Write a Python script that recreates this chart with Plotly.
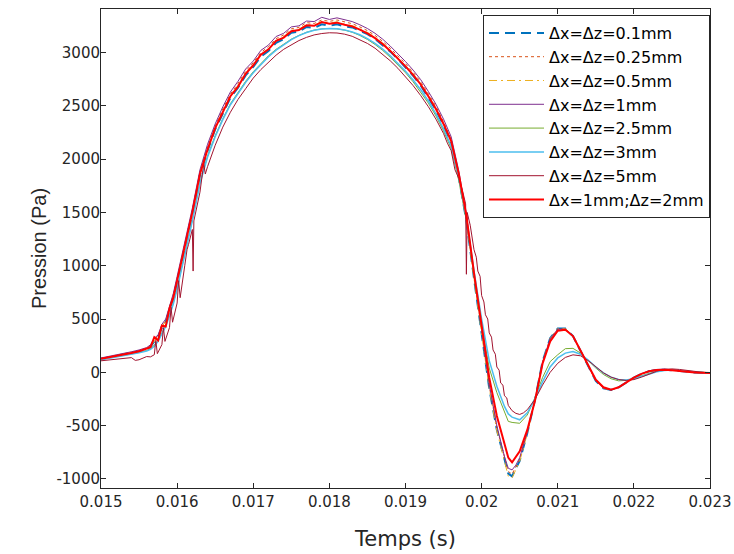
import plotly.graph_objects as go

# ---------------- data ----------------
temps = [0.0150, 0.0151, 0.0152, 0.0153, 0.0154, 0.0155, 0.0156, 0.01565, 0.0157, 0.01575,
         0.0158, 0.01585, 0.0159, 0.01595, 0.0160, 0.0161, 0.0162, 0.0163, 0.0164, 0.0165,
         0.0166, 0.0167, 0.0168, 0.0169, 0.0170, 0.0171, 0.0172, 0.0173, 0.0174, 0.0175,
         0.0176, 0.0177, 0.0178, 0.0179, 0.0180, 0.0181, 0.0182, 0.0183, 0.0184, 0.0185,
         0.0186, 0.0187, 0.0188, 0.0189, 0.0190, 0.0191, 0.0192, 0.0193, 0.0194, 0.0195,
         0.0196, 0.0197, 0.0198, 0.0199, 0.0200, 0.0201, 0.0202, 0.0203, 0.02035, 0.0204,
         0.02045, 0.0205, 0.0206, 0.0207, 0.0208, 0.0209, 0.0210, 0.0211, 0.0212, 0.0213,
         0.0214, 0.0215, 0.0216, 0.0217, 0.0218, 0.0219, 0.0220, 0.0221, 0.0222, 0.0223,
         0.0224, 0.0225, 0.0226, 0.0227, 0.0228, 0.0229, 0.0230]

p_dx01 = [125, 138, 151, 165, 180, 196, 216, 240, 290, 330,
          420, 470, 590, 700, 850, 1160, 1490, 1850, 2080, 2280,
          2430, 2575, 2670, 2785, 2865, 2960, 3015, 3090, 3125, 3185,
          3195, 3240, 3230, 3265, 3250, 3265, 3245, 3235, 3205, 3172,
          3128, 3072, 3008, 2938, 2862, 2782, 2690, 2580, 2460, 2315,
          2150, 1830, 1420, 880, 360, -150, -540, -830, -950, -975,
          -900, -830, -570, -260, 100, 320, 410, 410, 340, 195,
          50, -80, -150, -165, -140, -95, -50, -15, 10, 22,
          25, 20, 12, 3, -2, -4, -6]

p_dx025 = [132, 145, 158, 173, 188, 204, 225, 250, 310, 340,
           445, 480, 615, 720, 880, 1190, 1520, 1880, 2120, 2310,
           2470, 2610, 2710, 2825, 2905, 3000, 3055, 3130, 3165, 3222,
           3235, 3280, 3272, 3305, 3292, 3305, 3285, 3270, 3240, 3205,
           3160, 3105, 3040, 2970, 2895, 2815, 2725, 2615, 2495, 2350,
           2185, 1860, 1450, 900, 380, -130, -520, -810, -930, -955,
           -890, -815, -565, -260, 95, 315, 408, 408, 340, 198,
           52, -78, -150, -165, -141, -95, -50, -14, 12, 24,
           27, 22, 13, 4, -2, -4, -6]

p_dx05 = [127, 139, 152, 166, 181, 197, 217, 242, 295, 335,
          430, 475, 600, 710, 860, 1170, 1500, 1860, 2095, 2295,
          2450, 2595, 2690, 2805, 2885, 2985, 3035, 3115, 3148, 3208,
          3218, 3262, 3255, 3290, 3275, 3288, 3265, 3252, 3222, 3188,
          3143, 3088, 3022, 2952, 2877, 2797, 2705, 2595, 2475, 2330,
          2165, 1840, 1430, 880, 360, -150, -550, -850, -975, -990,
          -910, -835, -575, -265, 95, 318, 410, 410, 340, 196,
          50, -80, -150, -165, -140, -95, -50, -15, 10, 22,
          25, 20, 12, 3, -2, -4, -6]

p_dx1 = [135, 148, 162, 177, 193, 210, 232, 258, 320, 350,
         450, 500, 630, 740, 900, 1210, 1540, 1900, 2140, 2330,
         2490, 2630, 2730, 2845, 2920, 3020, 3070, 3150, 3180, 3240,
         3250, 3295, 3290, 3330, 3310, 3325, 3305, 3290, 3260, 3225,
         3180, 3125, 3060, 2990, 2915, 2835, 2745, 2635, 2515, 2375,
         2210, 1890, 1480, 930, 400, -110, -500, -790, -900, -915,
         -870, -800, -560, -260, 95, 315, 405, 405, 340, 200,
         55, -75, -148, -165, -142, -95, -50, -12, 14, 27,
         30, 24, 14, 4, -2, -4, -6]

p_dx25 = [120, 132, 145, 158, 172, 187, 205, 222, 255, 300,
          370, 440, 540, 650, 790, 1100, 1430, 1780, 2030, 2220,
          2380, 2520, 2630, 2730, 2820, 2900, 2970, 3030, 3080, 3125,
          3160, 3190, 3210, 3222, 3225, 3222, 3210, 3190, 3160, 3122,
          3075, 3020, 2955, 2885, 2810, 2725, 2630, 2525, 2405, 2265,
          2100, 1800, 1420, 900, 440, 40, -190, -370, -460, -470,
          -472, -478, -400, -240, -50, 100, 165, 222, 225, 180,
          110, 40, -20, -60, -80, -75, -55, -30, -10, 8,
          18, 20, 15, 8, 2, -2, -4]

p_dx3 = [118, 130, 143, 156, 170, 184, 200, 215, 245, 290,
         360, 430, 530, 640, 780, 1090, 1420, 1770, 2020, 2210,
         2370, 2510, 2620, 2720, 2810, 2890, 2960, 3022, 3075, 3120,
         3158, 3188, 3208, 3220, 3224, 3222, 3212, 3193, 3166, 3130,
         3085, 3032, 2970, 2900, 2825, 2742, 2650, 2545, 2425, 2285,
         2120, 1830, 1450, 950, 500, 110, -130, -320, -390, -420,
         -435, -445, -380, -250, -90, 50, 135, 180, 195, 170,
         115, 50, -5, -45, -68, -73, -60, -38, -15, 5,
         18, 22, 18, 10, 3, -2, -4]

p_red = [128, 140, 153, 167, 182, 198, 218, 235, 330, 300,
         440, 430, 600, 700, 860, 1170, 1500, 1860, 2090, 2290,
         2440, 2590, 2680, 2800, 2880, 2980, 3030, 3110, 3140, 3200,
         3210, 3255, 3250, 3285, 3270, 3280, 3260, 3245, 3215, 3180,
         3135, 3080, 3015, 2945, 2870, 2790, 2700, 2590, 2470, 2330,
         2170, 1860, 1470, 930, 430, -50, -410, -660, -800, -845,
         -790, -740, -540, -270, 80, 290, 390, 400, 340, 200,
         60, -70, -140, -163, -140, -95, -50, -15, 10, 22,
         25, 20, 12, 3, -2, -4, -6]

# the 5 mm run has its own, finer sampling (spiky samples)
temps_dx5 = [0.0150, 0.0151, 0.0152, 0.0153, 0.0154, 0.01545, 0.0155, 0.0156, 0.01565, 0.0157,
             0.01572, 0.01574, 0.0158, 0.01582, 0.01584, 0.0159, 0.01592, 0.01594, 0.0160, 0.01602,
             0.01604, 0.0161, 0.01613, 0.01615, 0.0162, 0.01621, 0.01622, 0.0163, 0.01635, 0.01637,
             0.0164, 0.0165, 0.0166, 0.0167, 0.0168, 0.0169, 0.0170, 0.0171, 0.0172, 0.0173,
             0.0174, 0.0175, 0.0176, 0.0177, 0.0178, 0.0179, 0.0180, 0.0181, 0.0182, 0.0183,
             0.0184, 0.0185, 0.0186, 0.0187, 0.0188, 0.0189, 0.0190, 0.0191, 0.0192, 0.0193,
             0.0194, 0.0195, 0.01955, 0.0196, 0.01965, 0.0197, 0.01975, 0.01979, 0.0198, 0.01981,
             0.01985, 0.0199, 0.01993, 0.01995, 0.01998, 0.0200, 0.02003, 0.02005, 0.02008, 0.0201,
             0.02013, 0.02015, 0.02018, 0.0202, 0.02023, 0.02025, 0.02028, 0.0203, 0.02033, 0.02035,
             0.0204, 0.02045, 0.0205, 0.02055, 0.0206, 0.0207, 0.0208, 0.0209, 0.0210, 0.0211,
             0.0212, 0.0213, 0.0214, 0.0215, 0.0216, 0.0217, 0.0218, 0.0219, 0.0220, 0.0221,
             0.0222, 0.0223, 0.0224, 0.0225, 0.0226, 0.0227, 0.0228, 0.0229, 0.0230]
p_dx5 = [108, 115, 122, 130, 138, 112, 118, 148, 145, 165,
         300, 175, 260, 420, 290, 420, 610, 470, 650, 860,
         700, 1000, 1150, 1200, 1340, 950, 1420, 1690, 1960, 1860,
         1930, 2130, 2300, 2440, 2560, 2660, 2760, 2840, 2910, 2975,
         3030, 3075, 3112, 3142, 3165, 3178, 3185, 3183, 3172, 3152,
         3122, 3085, 3040, 2985, 2922, 2852, 2775, 2690, 2596, 2492,
         2375, 2240, 2150, 2080, 1900, 1820, 1700, 1580, 920, 1500,
         1380, 1150, 1080, 950, 900, 720, 660, 540, 500, 370,
         330, 210, 170, 50, 20, -100, -120, -220, -240, -310,
         -360, -385, -395, -380, -350, -255, -120, 0, 85, 140,
         164, 155, 110, 50, -5, -45, -68, -76, -68, -45,
         -15, 10, 28, 32, 27, 17, 6, 0, -3]

x_tick_vals = [0.015, 0.016, 0.017, 0.018, 0.019, 0.020, 0.021, 0.022, 0.023]
x_tick_text = ["0.015", "0.016", "0.017", "0.018", "0.019", "0.02", "0.021", "0.022", "0.023"]
y_tick_vals = [-1000, -500, 0, 500, 1000, 1500, 2000, 2500, 3000]
y_tick_text = ["-1000", "-500", "0", "500", "1000", "1500", "2000", "2500", "3000"]

series_names = ["Δx=Δz=0.1mm", "Δx=Δz=0.25mm", "Δx=Δz=0.5mm", "Δx=Δz=1mm",
                "Δx=Δz=2.5mm", "Δx=Δz=3mm", "Δx=Δz=5mm", "Δx=1mm;Δz=2mm"]

# ---------------- figure ----------------
series = [
    (series_names[0], temps, p_dx01, dict(color="#0072BD", width=2, dash="10px,6px")),
    (series_names[1], temps, p_dx025, dict(color="#D95319", width=1, dash="dot")),
    (series_names[2], temps, p_dx05, dict(color="#EDB120", width=1, dash="8px,4px,2px,4px")),
    (series_names[3], temps, p_dx1, dict(color="#7E2F8E", width=1)),
    (series_names[4], temps, p_dx25, dict(color="#77AC30", width=1)),
    (series_names[5], temps, p_dx3, dict(color="#4DBEEE", width=1.5)),
    (series_names[6], temps_dx5, p_dx5, dict(color="#A2142F", width=1)),
    (series_names[7], temps, p_red, dict(color="#FF0000", width=2)),
]

fig = go.Figure()
for name, t, p, line in series:
    assert len(t) == len(p), name
    fig.add_trace(go.Scatter(x=t, y=p, mode="lines", name=name, line=line))

axis_color = "#262626"
fig.update_layout(
    width=734, height=554,
    margin=dict(l=101, r=24, t=9, b=66, autoexpand=False),
    paper_bgcolor="white", plot_bgcolor="white",
    font=dict(family="DejaVu Sans", size=15, color=axis_color),
    showlegend=True,
    legend=dict(x=1.0, xanchor="right", y=0.9875, yanchor="top",
                bgcolor="white", bordercolor=axis_color, borderwidth=1,
                font=dict(family="DejaVu Sans", size=16, color="black"),
                itemwidth=55, traceorder="normal"),
    xaxis=dict(range=[0.015, 0.023], tickmode="array", tickvals=x_tick_vals, ticktext=x_tick_text,
               ticks="inside", ticklen=5, tickcolor=axis_color, showline=True, linecolor=axis_color,
               linewidth=1, mirror="ticks", showgrid=False, zeroline=False, ticklabelstandoff=0,
               title=dict(text="Temps (s)", font=dict(family="DejaVu Sans", size=21, color=axis_color),
                          standoff=21)),
    yaxis=dict(range=[-1085, 3408], tickmode="array", tickvals=y_tick_vals, ticktext=y_tick_text,
               ticks="inside", ticklen=5, tickcolor=axis_color, showline=True, linecolor=axis_color,
               linewidth=1, mirror="ticks", showgrid=False, zeroline=False, ticklabelstandoff=-3,
               title=dict(text="Pression (Pa)", font=dict(family="Liberation Sans", size=20, color=axis_color),
                          standoff=4)),
)

# remove the default page margin so the 734x554 figure fills the window exactly
fig.write_html("out.html", config={"displayModeBar": False},
               post_script="document.body.style.margin='0px';")
